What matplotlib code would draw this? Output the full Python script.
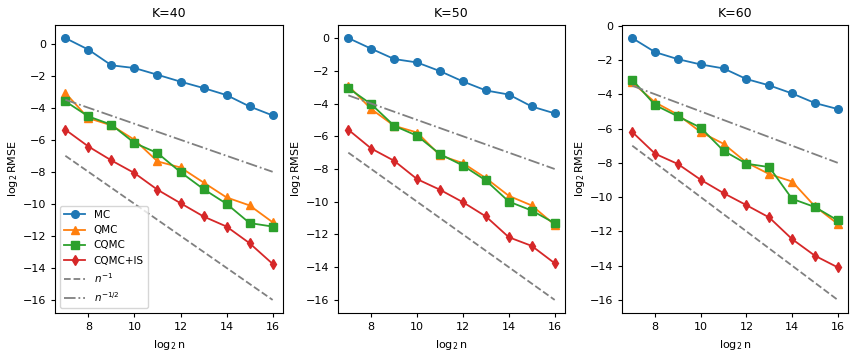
import numpy as np
import matplotlib
matplotlib.use("Agg")
import matplotlib.pyplot as plt

log2n = [7, 8, 9, 10, 11, 12, 13, 14, 15, 16]
Ks = [40, 50, 60]

mc = {
    40: [0.35, -0.37, -1.35, -1.52, -1.94, -2.37, -2.77, -3.21, -3.92, -4.48],
    50: [0.0, -0.65, -1.28, -1.49, -2.02, -2.65, -3.2, -3.45, -4.18, -4.6],
    60: [-0.72, -1.54, -1.95, -2.26, -2.49, -3.11, -3.48, -3.95, -4.51, -4.86],
}
qmc = {
    40: [-3.08, -4.65, -5.1, -6.0, -7.35, -7.73, -8.67, -9.6, -10.1, -11.15],
    50: [-2.91, -4.34, -5.36, -5.77, -7.17, -7.64, -8.56, -9.64, -10.23, -11.41],
    60: [-3.31, -4.47, -5.19, -6.21, -6.89, -7.98, -8.66, -9.09, -10.54, -11.56],
}
cqmc = {
    40: [-3.6, -4.54, -5.06, -6.2, -6.83, -8.02, -9.08, -10.0, -11.2, -11.42],
    50: [-3.06, -4.04, -5.36, -5.97, -7.09, -7.79, -8.7, -9.99, -10.54, -11.31],
    60: [-3.15, -4.63, -5.29, -5.95, -7.3, -8.05, -8.25, -10.1, -10.58, -11.36],
}
cqmc_is = {
    40: [-5.37, -6.42, -7.29, -8.08, -9.12, -9.96, -10.79, -11.42, -12.46, -13.75],
    50: [-5.6, -6.75, -7.5, -8.62, -9.27, -10.03, -10.9, -12.17, -12.7, -13.76],
    60: [-6.2, -7.47, -8.07, -8.99, -9.77, -10.47, -11.19, -12.45, -13.42, -14.1],
}
# reference rates
ref_x = [7, 16]
rate1 = [-7, -16]
rate_half = [-3.5, -8]

W, H = 859, 358
fig = plt.figure(figsize=(W / 100, H / 100), dpi=100)
lefts = [55, 338, 622]
widths = [228, 227, 226]
lw, ms = 1.3, 5.5

for i, K in enumerate(Ks):
    ax = fig.add_axes([lefts[i] / W, 45 / H, widths[i] / W, 288 / H])
    ax.plot(log2n, mc[K], marker="o", color="tab:blue", lw=lw, ms=ms, label="MC")
    ax.plot(log2n, qmc[K], marker="^", color="tab:orange", lw=lw, ms=ms, label="QMC")
    ax.plot(log2n, cqmc[K], marker="s", color="tab:green", lw=lw, ms=ms, label="CQMC")
    ax.plot(log2n, cqmc_is[K], marker="d", color="tab:red", lw=lw, ms=ms, label="CQMC+IS")
    ax.plot(ref_x, rate1, "--", color="gray", lw=lw, label="$n^{-1}$")
    ax.plot(ref_x, rate_half, "-.", color="gray", lw=lw, label="$n^{-1/2}$")
    ax.set_title("K=%d" % K, fontsize=9)
    ax.set_xlabel("$\\log_2$n", fontsize=8)
    ax.set_ylabel("$\\log_2$RMSE", fontsize=8, labelpad=2)
    ax.set_xticks([8, 10, 12, 14, 16])
    ax.set_yticks(np.arange(-16, 1, 2))
    ax.tick_params(labelsize=8, length=3)
    if i == 0:
        ax.legend(loc="lower left", fontsize=7.5)

plt.savefig("out.png", dpi=100)
